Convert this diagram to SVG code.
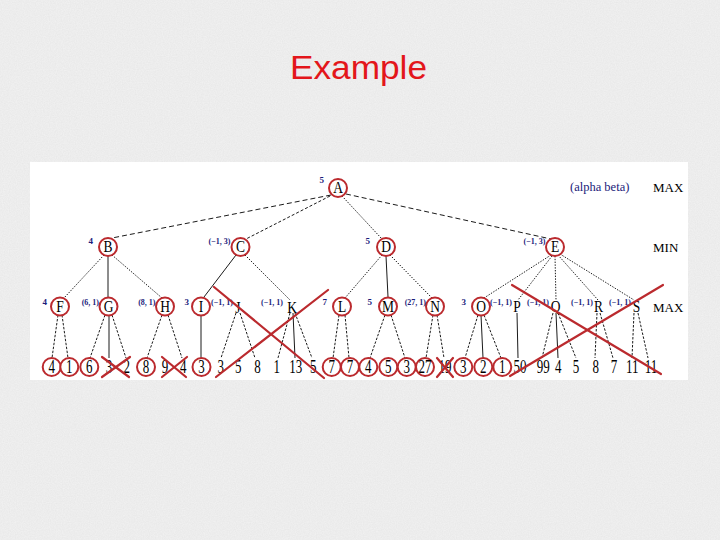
<svg xmlns="http://www.w3.org/2000/svg" width="720" height="540" viewBox="0 0 720 540">
<defs>
<filter id="grain" x="0" y="0" width="100%" height="100%">
<feTurbulence type="fractalNoise" baseFrequency="0.85" numOctaves="2" seed="7"/>
<feColorMatrix type="matrix" values="0 0 0 0 0.55  0 0 0 0 0.55  0 0 0 0 0.55  0 0 0 0.24 0"/>
</filter>
<style>
.node circle,.leaf circle{fill:#fff;stroke:#bb2a2e;stroke-width:2}
.nl{font-family:"Liberation Serif",serif;font-size:13.5px;fill:#000;text-anchor:middle}
.lv{font-family:"Liberation Serif",serif;font-size:13px;fill:#000;text-anchor:middle}
.al{font-family:"Liberation Serif",serif;font-size:8px;font-weight:bold;fill:#1b1b7a;text-anchor:end}
.an{font-family:"Liberation Serif",serif;font-size:9px;font-weight:bold;fill:#1b1b7a;text-anchor:end}
.side{font-family:"Liberation Serif",serif;font-size:13px;fill:#000}
.ab{font-family:"Liberation Serif",serif;font-size:12.5px;fill:#1b1b7a}
.e{fill:none;stroke:#000;stroke-width:0.9}
.d1{stroke-dasharray:5 3}
.d2{stroke-dasharray:3 2}
.dt{stroke-dasharray:1.4 1.4}
.ds{stroke-dasharray:2.5 1.5}
.x{stroke:#bb2a2e;stroke-width:2.2;stroke-linecap:round;fill:none}
</style>
</defs>
<rect width="720" height="540" fill="#f2f2f2"/>
<rect width="720" height="540" filter="url(#grain)"/>
<text x="358.5" y="78.5" font-family="Liberation Sans, Arial, sans-serif" font-size="33" fill="#e3161b" text-anchor="middle" textLength="137" lengthAdjust="spacingAndGlyphs">Example</text>
<rect x="30" y="162" width="658" height="218" fill="#fff"/>

<g id="connectors">
<line class="e d1" x1="331" y1="195" x2="112" y2="238"/>
<line class="e d2" x1="330" y1="196" x2="246" y2="239"/>
<line class="e dt" x1="342" y1="196" x2="382" y2="239"/>
<line class="e d1" x1="346" y1="194" x2="551" y2="239"/>
<line class="e dt" x1="104" y1="255" x2="64" y2="298"/>
<line class="e" x1="108" y1="256" x2="108" y2="297"/>
<line class="e dt" x1="112" y1="255" x2="162" y2="298"/>
<line class="e" x1="236" y1="255" x2="204" y2="297"/>
<line class="e dt" x1="245" y1="255" x2="290" y2="300"/>
<line class="e dt" x1="382" y1="255" x2="345" y2="298"/>
<line class="e" x1="386" y1="256" x2="388" y2="297"/>
<line class="e dt" x1="390" y1="255" x2="432" y2="298"/>
<line class="e dt" x1="551" y1="255" x2="484" y2="298"/>
<line class="e dt" x1="552" y1="256" x2="518" y2="300"/>
<line class="e dt" x1="555" y1="256" x2="556" y2="300"/>
<line class="e dt" x1="558" y1="255" x2="598" y2="300"/>
<line class="e dt" x1="560" y1="254" x2="634" y2="300"/>
<line class="e ds" x1="58" y1="315" x2="52" y2="358"/>
<line class="e ds" x1="62" y1="315" x2="68" y2="358"/>
<line class="e ds" x1="105" y1="315" x2="90" y2="358"/>
<line class="e" x1="109" y1="315" x2="109" y2="358"/>
<line class="e ds" x1="112" y1="315" x2="126" y2="358"/>
<line class="e ds" x1="162" y1="315" x2="147" y2="358"/>
<line class="e ds" x1="168" y1="315" x2="182" y2="358"/>
<line class="e" x1="201" y1="315" x2="201" y2="358"/>
<line class="e ds" x1="236" y1="313" x2="221" y2="358"/>
<line class="e ds" x1="240" y1="313" x2="255" y2="358"/>
<line class="e ds" x1="290" y1="313" x2="278" y2="358"/>
<line class="e" x1="293" y1="313" x2="295" y2="358"/>
<line class="e ds" x1="295" y1="313" x2="312" y2="358"/>
<line class="e ds" x1="339" y1="315" x2="333" y2="358"/>
<line class="e ds" x1="345" y1="315" x2="349" y2="358"/>
<line class="e ds" x1="385" y1="315" x2="370" y2="358"/>
<line class="e ds" x1="391" y1="315" x2="405" y2="358"/>
<line class="e ds" x1="433" y1="315" x2="426" y2="358"/>
<line class="e ds" x1="437" y1="315" x2="444" y2="358"/>
<line class="e ds" x1="478" y1="315" x2="465" y2="358"/>
<line class="e" x1="481" y1="315" x2="483" y2="358"/>
<line class="e ds" x1="484" y1="315" x2="501" y2="358"/>
<line class="e" x1="517" y1="313" x2="518" y2="358"/>
<line class="e ds" x1="553" y1="313" x2="542" y2="358"/>
<line class="e" x1="556" y1="313" x2="558" y2="358"/>
<line class="e ds" x1="558" y1="313" x2="576" y2="358"/>
<line class="e ds" x1="597" y1="313" x2="595" y2="358"/>
<line class="e ds" x1="600" y1="313" x2="613" y2="358"/>
<line class="e ds" x1="634" y1="313" x2="632" y2="358"/>
<line class="e ds" x1="638" y1="313" x2="648" y2="358"/>
</g>

<g id="A" class="node" transform="translate(338,188)"><circle r="9"/><text class="nl" y="4.2" transform="scale(1,1.2)">A</text></g>
<g id="B" class="node" transform="translate(108,247)"><circle r="9"/><text class="nl" y="4.2" transform="scale(1,1.2)">B</text></g>
<g id="C" class="node" transform="translate(240.5,247)"><circle r="9"/><text class="nl" y="4.2" transform="scale(1,1.2)">C</text></g>
<g id="D" class="node" transform="translate(386,247)"><circle r="9"/><text class="nl" y="4.2" transform="scale(1,1.2)">D</text></g>
<g id="E" class="node" transform="translate(555,247)"><circle r="9"/><text class="nl" y="4.2" transform="scale(1,1.2)">E</text></g>
<g id="F" class="node" transform="translate(60,306.5)"><circle r="9"/><text class="nl" y="4.2" transform="scale(1,1.2)">F</text></g>
<g id="G" class="node" transform="translate(108.5,306.5)"><circle r="9"/><text class="nl" y="4.2" transform="scale(1,1.2)">G</text></g>
<g id="H" class="node" transform="translate(165,306.5)"><circle r="9"/><text class="nl" y="4.2" transform="scale(1,1.2)">H</text></g>
<g id="I" class="node" transform="translate(201,306.5)"><circle r="9"/><text class="nl" y="4.2" transform="scale(1,1.2)">I</text></g>
<g id="J" class="node" transform="translate(238,307.5)"><text class="nl" y="4.2" transform="scale(1,1.2)">J</text></g>
<g id="K" class="node" transform="translate(292,307.5)"><text class="nl" y="4.2" transform="scale(1,1.2)">K</text></g>
<g id="L" class="node" transform="translate(342,306.5)"><circle r="9"/><text class="nl" y="4.2" transform="scale(1,1.2)">L</text></g>
<g id="M" class="node" transform="translate(388,306.5)"><circle r="9"/><text class="nl" y="4.2" transform="scale(1,1.2)">M</text></g>
<g id="N" class="node" transform="translate(435,306.5)"><circle r="9"/><text class="nl" y="4.2" transform="scale(1,1.2)">N</text></g>
<g id="O" class="node" transform="translate(481,306.5)"><circle r="9"/><text class="nl" y="4.2" transform="scale(1,1.2)">O</text></g>
<g id="P" class="node" transform="translate(517,307)"><text class="nl" y="4.2" transform="scale(1,1.2)">P</text></g>
<g id="Q" class="node" transform="translate(555.5,307)"><text class="nl" y="4.2" transform="scale(1,1.2)">Q</text></g>
<g id="R" class="node" transform="translate(598.5,307)"><text class="nl" y="4.2" transform="scale(1,1.2)">R</text></g>
<g id="S" class="node" transform="translate(636.5,307)"><text class="nl" y="4.2" transform="scale(1,1.2)">S</text></g>

<g id="leaves">
<g id="l1" class="leaf" transform="translate(51.7,367)"><circle r="9"/><text class="lv" y="4.5" transform="scale(1,1.4)">4</text></g>
<g id="l2" class="leaf" transform="translate(69.3,367)"><circle r="9"/><text class="lv" y="4.5" transform="scale(1,1.4)">1</text></g>
<g id="l3" class="leaf" transform="translate(89.3,367)"><circle r="9"/><text class="lv" y="4.5" transform="scale(1,1.4)">6</text></g>
<g id="l4" class="leaf" transform="translate(109,367)"><text class="lv" y="4.5" transform="scale(1,1.4)">3</text></g>
<g id="l5" class="leaf" transform="translate(126.7,367)"><text class="lv" y="4.5" transform="scale(1,1.4)">2</text></g>
<g id="l6" class="leaf" transform="translate(146,367)"><circle r="9"/><text class="lv" y="4.5" transform="scale(1,1.4)">8</text></g>
<g id="l7" class="leaf" transform="translate(165,367)"><text class="lv" y="4.5" transform="scale(1,1.4)">9</text></g>
<g id="l8" class="leaf" transform="translate(183.3,367)"><text class="lv" y="4.5" transform="scale(1,1.4)">4</text></g>
<g id="l9" class="leaf" transform="translate(201.5,367)"><circle r="9"/><text class="lv" y="4.5" transform="scale(1,1.4)">3</text></g>
<g id="l10" class="leaf" transform="translate(220.7,367)"><text class="lv" y="4.5" transform="scale(1,1.4)">3</text></g>
<g id="l11" class="leaf" transform="translate(238.3,367)"><text class="lv" y="4.5" transform="scale(1,1.4)">5</text></g>
<g id="l12" class="leaf" transform="translate(257.5,367)"><text class="lv" y="4.5" transform="scale(1,1.4)">8</text></g>
<g id="l13" class="leaf" transform="translate(276.7,367)"><text class="lv" y="4.5" transform="scale(1,1.4)">1</text></g>
<g id="l14" class="leaf" transform="translate(295.7,367)"><text class="lv" y="4.5" transform="scale(1,1.4)">13</text></g>
<g id="l15" class="leaf" transform="translate(313.3,367)"><text class="lv" y="4.5" transform="scale(1,1.4)">5</text></g>
<g id="l16" class="leaf" transform="translate(331.7,367)"><circle r="9"/><text class="lv" y="4.5" transform="scale(1,1.4)">7</text></g>
<g id="l17" class="leaf" transform="translate(350,367)"><circle r="9"/><text class="lv" y="4.5" transform="scale(1,1.4)">7</text></g>
<g id="l18" class="leaf" transform="translate(368.3,367)"><circle r="9"/><text class="lv" y="4.5" transform="scale(1,1.4)">4</text></g>
<g id="l19" class="leaf" transform="translate(388.3,367)"><circle r="9"/><text class="lv" y="4.5" transform="scale(1,1.4)">5</text></g>
<g id="l20" class="leaf" transform="translate(406.7,367)"><circle r="9"/><text class="lv" y="4.5" transform="scale(1,1.4)">3</text></g>
<g id="l21" class="leaf" transform="translate(425,367)"><circle r="9"/><text class="lv" y="4.5" transform="scale(1,1.4)">27</text></g>
<g id="l22" class="leaf" transform="translate(445,367)"><text class="lv" y="4.5" transform="scale(1,1.4)">19</text></g>
<g id="l23" class="leaf" transform="translate(463.3,367)"><circle r="9"/><text class="lv" y="4.5" transform="scale(1,1.4)">3</text></g>
<g id="l24" class="leaf" transform="translate(483.3,367)"><circle r="9"/><text class="lv" y="4.5" transform="scale(1,1.4)">2</text></g>
<g id="l25" class="leaf" transform="translate(502.3,367)"><circle r="9"/><text class="lv" y="4.5" transform="scale(1,1.4)">1</text></g>
<g id="l26" class="leaf" transform="translate(520,367)"><text class="lv" y="4.5" transform="scale(1,1.4)">50</text></g>
<g id="l27" class="leaf" transform="translate(543.3,367)"><text class="lv" y="4.5" transform="scale(1,1.4)">99</text></g>
<g id="l28" class="leaf" transform="translate(558.3,367)"><text class="lv" y="4.5" transform="scale(1,1.4)">4</text></g>
<g id="l29" class="leaf" transform="translate(576,367)"><text class="lv" y="4.5" transform="scale(1,1.4)">5</text></g>
<g id="l30" class="leaf" transform="translate(595.7,367)"><text class="lv" y="4.5" transform="scale(1,1.4)">8</text></g>
<g id="l31" class="leaf" transform="translate(614,367)"><text class="lv" y="4.5" transform="scale(1,1.4)">7</text></g>
<g id="l32" class="leaf" transform="translate(632.3,367)"><text class="lv" y="4.5" transform="scale(1,1.4)">11</text></g>
<g id="l33" class="leaf" transform="translate(651,367)"><text class="lv" y="4.5" transform="scale(1,1.4)">11</text></g>
</g>

<g id="labels">
<text class="an" x="324" y="183">5</text>
<text class="ab" x="570" y="191">(alpha beta)</text>
<text class="side" x="653" y="192">MAX</text>
<text class="side" x="653" y="252">MIN</text>
<text class="side" x="653" y="312">MAX</text>
<text class="an" x="93" y="244">4</text>
<text class="al" x="230.5" y="244">(−1, 3)</text>
<text class="an" x="370" y="244">5</text>
<text class="al" x="545.5" y="244">(−1, 3)</text>
<text class="an" x="47" y="304.5">4</text>
<text class="al" x="99" y="304.5">(6, 1)</text>
<text class="al" x="155.5" y="304.5">(8, 1)</text>
<text class="an" x="189" y="304.5">3</text>
<text class="al" x="233" y="304.5">(−1, 1)</text>
<text class="al" x="283" y="304.5">(−1, 1)</text>
<text class="an" x="327" y="304.5">7</text>
<text class="an" x="372" y="304.5">5</text>
<text class="al" x="426" y="304.5">(27, 1)</text>
<text class="an" x="466" y="304.5">3</text>
<text class="al" x="512" y="304.5">(−1, 1)</text>
<text class="al" x="549" y="304.5">(−1, 1)</text>
<text class="al" x="593" y="304.5">(−1, 1)</text>
<text class="al" x="631" y="304.5">(−1, 1)</text>
</g>

<g id="crosses">
<line class="x" x1="102" y1="357" x2="129" y2="377"/>
<line class="x" x1="102" y1="377" x2="130" y2="357"/>
<line class="x" x1="162" y1="357" x2="186" y2="377"/>
<line class="x" x1="162" y1="377" x2="187" y2="357"/>
<line class="x" x1="437" y1="358" x2="453" y2="377"/>
<line class="x" x1="437" y1="377" x2="453" y2="358"/>
<line class="x" x1="214" y1="287" x2="324" y2="378"/>
<line class="x" x1="216" y1="377" x2="328" y2="290"/>
<line class="x" x1="512" y1="285" x2="661" y2="374"/>
<line class="x" x1="510" y1="376" x2="663" y2="285"/>
</g>
</svg>
